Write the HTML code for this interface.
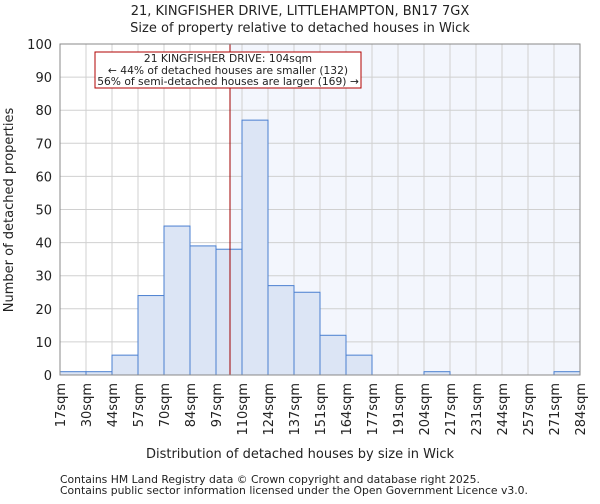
<!DOCTYPE html>
<html><head><meta charset="utf-8"><style>
body{margin:0;background:#fff;font-family:"DejaVu Sans","Liberation Sans",sans-serif}
svg text{font-family:"DejaVu Sans","Liberation Sans",sans-serif;fill:#222}
</style></head><body>
<svg id="c" width="600" height="500"></svg>
<script>
const edges=["17sqm","30sqm","44sqm","57sqm","70sqm","84sqm","97sqm","110sqm","124sqm","137sqm","151sqm","164sqm","177sqm","191sqm","204sqm","217sqm","231sqm","244sqm","257sqm","271sqm","284sqm"];
const counts=[1,1,6,24,45,39,38,77,27,25,12,6,0,0,1,0,0,0,0,1];
const yTicks=[0,10,20,30,40,50,60,70,80,90,100];
const marker=104;
const edgeVals=[17,30,44,57,70,84,97,110,124,137,151,164,177,191,204,217,231,244,257,271,284];
const NS="http://www.w3.org/2000/svg",svg=document.getElementById('c');
const L=60,R=580,T=44,B=375;
const xi=i=>L+(R-L)*i/counts.length;
const y=v=>B-(B-T)*v/100;
function xv(v){for(let i=0;i<edgeVals.length-1;i++){if(v<=edgeVals[i+1])return xi(i)+(xi(i+1)-xi(i))*(v-edgeVals[i])/(edgeVals[i+1]-edgeVals[i]);}return R;}
function mk(t,a,txt){const e=document.createElementNS(NS,t);for(const k in a)e.setAttribute(k,a[k]);if(txt!=null)e.textContent=txt;svg.appendChild(e);return e;}
const mx=xv(marker);
let e=mk('rect',{x:mx,y:T,width:R-mx,height:B-T,fill:'#f3f6fd'});


yTicks.forEach(t=>{const g=mk('line',{x1:L,x2:R,y1:y(t),y2:y(t),stroke:'#d0d0d0'});


const l=mk('text',{x:L-8,y:y(t)+5,'text-anchor':'end','font-size':13},t);

});
edges.forEach((s,i)=>{const g=mk('line',{x1:xi(i),x2:xi(i),y1:T,y2:B,stroke:'#d0d0d0'});


const l=mk('text',{transform:`translate(${xi(i)+5},${B+8}) rotate(-90)`,'text-anchor':'end','font-size':13},s);

});
counts.forEach((c,i)=>{const b=mk('rect',{x:xi(i),y:y(c),width:xi(i+1)-xi(i),height:B-y(c),fill:'#dce5f5',stroke:'#4a7fd0','stroke-width':1});

});
e=mk('line',{x1:mx,x2:mx,y1:T,y2:B,stroke:'#a00000','stroke-width':1});


e=mk('rect',{x:95,y:52,width:266,height:36,fill:'#fff',stroke:'#b00000'});


[["21 KINGFISHER DRIVE: 104sqm",62],["← 44% of detached houses are smaller (132)",74],["56% of semi-detached houses are larger (169) →",85]].forEach(a=>{const t=mk('text',{x:228,y:a[1],'text-anchor':'middle','font-size':10.7},a[0]);

});
e=mk('rect',{x:L,y:T,width:R-L,height:B-T,fill:'none',stroke:'#888'});


e=mk('text',{x:300,y:15,'text-anchor':'middle','font-size':13},"21, KINGFISHER DRIVE, LITTLEHAMPTON, BN17 7GX");


e=mk('text',{x:300,y:32,'text-anchor':'middle','font-size':13},"Size of property relative to detached houses in Wick");


e=mk('text',{x:300,y:458,'text-anchor':'middle','font-size':13},"Distribution of detached houses by size in Wick");


e=mk('text',{transform:'translate(13,210) rotate(-90)','text-anchor':'middle','font-size':13},"Number of detached properties");


e=mk('text',{x:60,y:483,'font-size':10.8},"Contains HM Land Registry data © Crown copyright and database right 2025.");


e=mk('text',{x:60,y:494,'font-size':10.8},"Contains public sector information licensed under the Open Government Licence v3.0.");


</script></body></html>
